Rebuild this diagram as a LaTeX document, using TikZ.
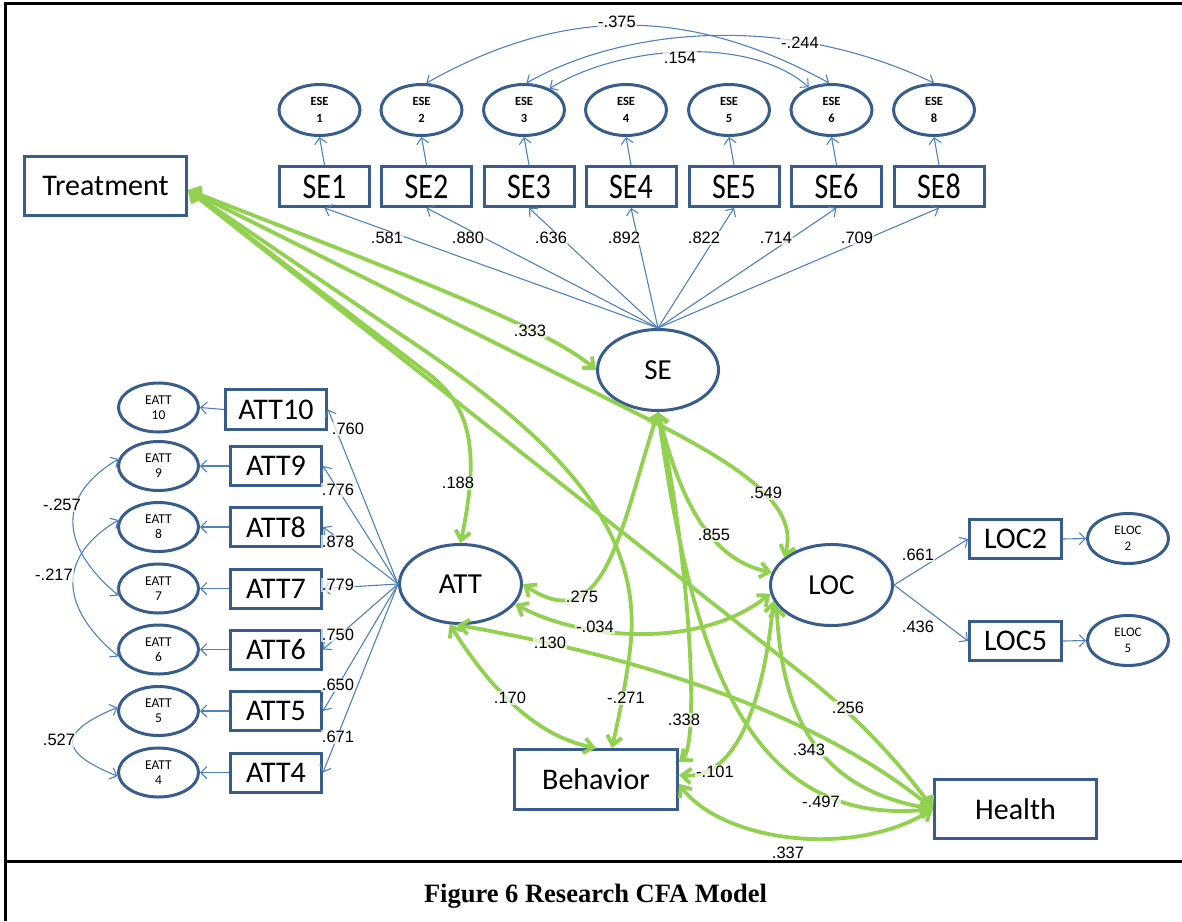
\documentclass[tikz,border=0pt]{standalone}
\usepackage{fontspec}
\usepackage{graphicx}
\setmainfont{Carlito}
\newfontfamily\labfont{Liberation Sans}
\newfontfamily\capfont{Liberation Serif}
\usetikzlibrary{arrows.meta,shapes.geometric}
\definecolor{nodeblue}{HTML}{385D8A}
\definecolor{pathblue}{HTML}{4F81BD}
\definecolor{pathgreen}{HTML}{92D050}

\tikzset{
  box/.style={draw=nodeblue, line width=3pt, fill=white, inner sep=0pt, font=\fontsize{30}{30}\selectfont},
  latent/.style={ellipse, draw=nodeblue, line width=3pt, fill=white, inner sep=0pt, font=\fontsize{29}{29}\selectfont},
  resid/.style={ellipse, draw=nodeblue, line width=3pt, fill=white, inner sep=0pt, align=center},
  load/.style={draw=pathblue, line width=1.1pt, -{Straight Barb[length=6pt,width=12pt]}},
  bicov/.style={draw=pathblue, line width=1.1pt, {Straight Barb[length=6pt,width=12pt]}-{Straight Barb[length=6pt,width=12pt]}},
  corr/.style={draw=pathgreen, line width=3.8pt, {Straight Barb[length=9pt,width=15pt]}-{Straight Barb[length=9pt,width=15pt]}},
  coef/.style={font=\labfont\fontsize{16.5}{18}\selectfont, fill=white, fill opacity=0.7, text opacity=1, inner sep=1pt},
}

\begin{document}
\begin{tikzpicture}[x=1pt,y=-1pt]
\useasboundingbox (0,0) rectangle (1182,921);

% frame and caption
\draw[line width=3pt] (5,921) -- (5,3.8) -- (1182,3.8);
\draw[line width=3pt] (5,861) -- (1182,861);
\node[font=\capfont\bfseries\fontsize{26.5}{28}\selectfont] (caption) at (595.5,896) {Figure 6 Research CFA Model};

% exogenous and outcome boxes
\node[box, minimum width=162pt, minimum height=59pt] (treat) at (105.5,186) {Treatment};
\node[box, minimum width=163pt, minimum height=60pt] (behav) at (596,779.5) {Behavior};
\node[box, minimum width=162pt, minimum height=59pt] (health) at (1015.5,809) {Health};

% latent factors
\node[latent, minimum width=121pt, minimum height=81pt] (se) at (658,370) {SE};
\node[latent, minimum width=122pt, minimum height=79pt] (att) at (460.5,584) {ATT};
\node[latent, minimum width=122pt, minimum height=81pt] (loc) at (831.5,585) {LOC};

% self-efficacy indicators and residuals
\foreach \n/\x in {1/324.5, 2/426.5, 3/529, 4/631, 5/734, 6/836.5, 8/939}{
  \node[box, minimum width=90pt, minimum height=40pt] (se\n) at (\x,186.5) {\scalebox{1}[1.2]{SE\n}};
  \node[resid, minimum width=81pt, minimum height=51pt, font=\bfseries\fontsize{12.5}{16.5}\selectfont] (ese\n) at ({\x-5},110) {ESE\\\n};
  \draw[load] (se\n.north) -- (ese\n.south);
  \draw[load] (se.north) -- (se\n.south);
}

% attitude indicators and residuals
\node[box, minimum width=101pt, minimum height=40pt] (att10) at (276,409.5) {ATT10};
\node[resid, minimum width=80pt, minimum height=49pt, font=\fontsize{13.5}{15}\selectfont] (eatt10) at (158.5,407.5) {EATT\\10};
\foreach \n/\y in {9/466, 8/527, 7/588.5, 6/649.5, 5/711, 4/772.5}{
  \node[box, minimum width=91pt, minimum height=39pt] (att\n) at (276,\y) {ATT\n};
  \node[resid, minimum width=80pt, minimum height=49pt, font=\fontsize{13.5}{15}\selectfont] (eatt\n) at (158.5,\y) {EATT\\\n};
}
\foreach \n in {10,9,8,7,6,5,4}{
  \draw[load] (att\n.west) -- (eatt\n.east);
  \draw[load] (att.west) -- (att\n.east);
}

% locus of control indicators and residuals
\node[box, minimum width=92pt, minimum height=39pt] (loc2) at (1015.5,539) {LOC2};
\node[box, minimum width=92pt, minimum height=39pt] (loc5) at (1015.5,641) {LOC5};
\node[resid, minimum width=81pt, minimum height=50pt, font=\fontsize{13}{16}\selectfont] (eloc2) at (1128,538.5) {ELOC\\2};
\node[resid, minimum width=81pt, minimum height=50pt, font=\fontsize{13}{16}\selectfont] (eloc5) at (1128,640.5) {ELOC\\5};
\draw[load] (loc.east) -- (loc2.west);
\draw[load] (loc.east) -- (loc5.west);
\draw[load] (loc2.east) -- (eloc2.west);
\draw[load] (loc5.east) -- (eloc5.west);

% residual covariances
\draw[bicov] (ese2.80) .. controls (565,5) and (690,7) .. (ese6.95);
\draw[bicov] (ese3.85) .. controls (620,30) and (780,10) .. (ese8.90);
\draw[bicov] (ese3.40) .. controls (620,45) and (750,35) .. (ese6.135);
\draw[bicov] (eatt9.170) .. controls (58,495) and (58,545) .. (eatt7.190);
\draw[bicov] (eatt8.170) .. controls (58,556) and (58,606) .. (eatt6.190);
\draw[bicov] (eatt5.175) .. controls (58,732) and (58,752) .. (eatt4.185);

% structural correlations
\draw[corr] ([yshift=-4pt]treat.east) .. controls (420,280) and (550,330) .. (se.west);
\draw[corr] ([yshift=-4pt]treat.east) -- (640,415) .. controls (740,465) and (800,505) .. (loc.150);
\draw[corr] ([yshift=-4pt]treat.east) -- (430,375) .. controls (475,410) and (478,460) .. (att.north);
\draw[corr] ([yshift=-4pt]treat.east) -- (400,334) .. controls (560,440) and (645,530) .. (630,650) .. controls (625,690) and (618,720) .. ([xshift=16pt]behav.north);
\draw[corr] ([yshift=-4pt]treat.east) -- (800,672) .. controls (860,718) and (905,770) .. (health.west);
\draw[corr] (se.south) .. controls (680,500) and (710,560) .. (loc.168);
\draw[corr] (se.south) .. controls (620,530) and (605,640) .. (att.east);
\draw[corr] (att.-20) .. controls (580,640) and (700,650) .. (loc.188);
\draw[corr] (loc.195) .. controls (765,690) and (740,780) .. (behav.3);
\draw[corr] (loc.200) .. controls (782,720) and (820,790) .. (health.west);
\draw[corr] (se.south) .. controls (690,640) and (740,830) .. (health.west);
\draw[corr] (se.south) .. controls (690,560) and (700,745) .. (behav.12);
\draw[corr] (behav.-3) .. controls (720,840) and (850,860) .. (health.west);
\draw[corr] (att.-95) .. controls (600,650) and (800,700) .. (health.west);
\draw[corr] (att.-105) .. controls (485,680) and (530,735) .. (behav.north);

% coefficients
\node[coef] (k1) at (387,238) {.581};
\node[coef] (k2) at (468,238) {.880};
\node[coef] (k3) at (551,238) {.636};
\node[coef] (k4) at (624,238) {.892};
\node[coef] (k5) at (704,238) {.822};
\node[coef] (k6) at (776,238) {.714};
\node[coef] (k8) at (857,238) {.709};
\node[coef] (a10) at (348,429) {.760};
\node[coef] (a9) at (338,490) {.776};
\node[coef] (a8) at (338,542) {.878};
\node[coef] (a7) at (338,585) {.779};
\node[coef] (a6) at (338,635) {.750};
\node[coef] (a5) at (338,685) {.650};
\node[coef] (a4) at (338,737) {.671};
\node[coef] (l2) at (918,555) {.661};
\node[coef] (l5) at (918,627) {.436};
\node[coef] (r26) at (617,22) {-.375};
\node[coef] (r38) at (800,43) {-.244};
\node[coef] (r36) at (680,58) {.154};
\node[coef] (r97) at (62,505) {-.257};
\node[coef] (r86) at (54,575) {-.217};
\node[coef] (r54) at (59,740) {.527};
\node[coef] (g1) at (530,331) {.333};
\node[coef] (g2) at (766,493) {.549};
\node[coef] (g3) at (458,483) {.188};
\node[coef] (g4) at (626,698) {-.271};
\node[coef] (g5) at (848,708) {.256};
\node[coef] (g6) at (714,535) {.855};
\node[coef] (g7) at (582,597) {.275};
\node[coef] (g8) at (595,627) {-.034};
\node[coef] (g9) at (715,772) {-.101};
\node[coef] (g10) at (809,750) {.343};
\node[coef] (g11) at (821,802) {-.497};
\node[coef] (g12) at (684,720) {.338};
\node[coef] (g13) at (788,853) {.337};
\node[coef] (g14) at (550,643) {.130};
\node[coef] (g15) at (510,698) {.170};
\end{tikzpicture}
\end{document}
